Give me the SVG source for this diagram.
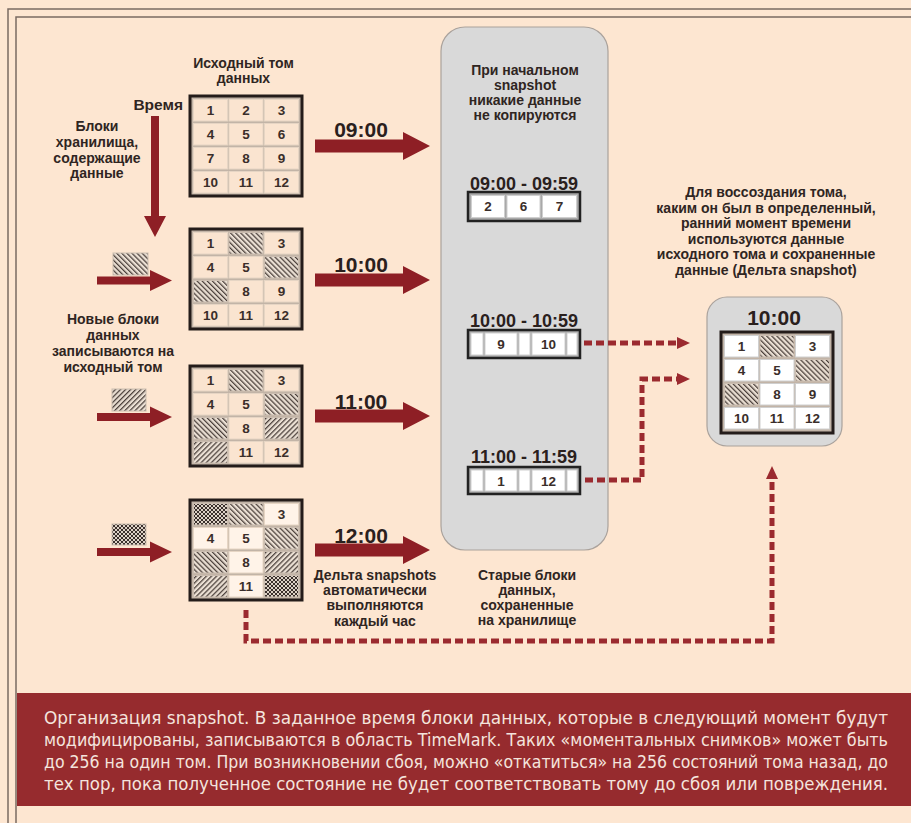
<svg xmlns="http://www.w3.org/2000/svg" width="911" height="823" viewBox="0 0 911 823">
  <defs>
    <style>
      .frame { fill: none; stroke: #7a6b62; stroke-width: 1.5; }
      .gbox { fill: #c2b4a7; stroke: #241c1a; stroke-width: 3; }
      .cell { fill: #fae4d0; stroke: #e6d5c4; stroke-width: 1; }
      .wcell { fill: #ffffff; stroke: #cfcfcf; stroke-width: 1; }
      .hA { fill: url(#hatchA); stroke: #cbbdb0; stroke-width: 1; }
      .hB { fill: url(#hatchB); stroke: #cbbdb0; stroke-width: 1; }
      .ck { fill: url(#check); stroke: #cbbdb0; stroke-width: 1; }
      .sbox { fill: #a9a9a9; stroke: #222222; stroke-width: 2.5; }
      .num { font: bold 13.5px "Liberation Sans", Arial, sans-serif; fill: #3a2e2a; text-anchor: middle; }
      .lbl { font: bold 14px "Liberation Sans", Arial, sans-serif; fill: #2f2522; text-anchor: middle; }
      .time { font: bold 21px "Liberation Sans", Arial, sans-serif; fill: #2a201d; text-anchor: middle; }
      .range { font: bold 18px "Liberation Sans", Arial, sans-serif; fill: #2a201d; text-anchor: middle; }
      .arrow { fill: #8e1f25; }
      .dash { fill: none; stroke: #9b2a2f; stroke-width: 5; stroke-dasharray: 8 4; }
      .dhead { fill: #9b2a2f; }
      .panel { fill: #d9d9d9; stroke: #aaa29c; stroke-width: 1.2; }
      .cap { font: 17px "DejaVu Sans Condensed", "Liberation Sans Narrow", "Liberation Sans", Arial, sans-serif; fill: #f4e4dd; }
    </style>
    <!-- "\" hatch -->
    <pattern id="hatchA" width="3.6" height="3.6" patternUnits="userSpaceOnUse" patternTransform="rotate(-45)">
      <rect width="3.6" height="3.6" fill="#eadfd3"/>
      <line x1="0.6" y1="0" x2="0.6" y2="3.6" stroke="#4a3f3a" stroke-width="1.3"/>
    </pattern>
    <!-- "/" hatch -->
    <pattern id="hatchB" width="3.6" height="3.6" patternUnits="userSpaceOnUse" patternTransform="rotate(45)">
      <rect width="3.6" height="3.6" fill="#eadfd3"/>
      <line x1="0.6" y1="0" x2="0.6" y2="3.6" stroke="#4a3f3a" stroke-width="1.3"/>
    </pattern>
    <!-- cross hatch -->
    <pattern id="check" width="4" height="4" patternUnits="userSpaceOnUse">
      <rect width="4" height="4" fill="#ddd2c6"/>
      <path d="M0,0 L4,4 M4,0 L0,4" stroke="#3a302c" stroke-width="1"/>
    </pattern>
  </defs>

  <!-- background and frame -->
  <rect width="911" height="823" fill="#fde6d1"/>
  <path class="frame" d="M8,823 V9 H911"/>
  <path class="frame" d="M16,823 V17 H911"/>

  <!-- left captions -->
  <g id="labels-left">
    <text class="lbl" x="243.5" y="68">Исходный том</text>
    <text class="lbl" x="243.5" y="83">данных</text>
    <text class="lbl" x="183" y="110" style="text-anchor:end;font-size:15.5px">Время</text>
    <text class="lbl" x="97" y="131">Блоки</text>
    <text class="lbl" x="97" y="147">хранилища,</text>
    <text class="lbl" x="97" y="163">содержащие</text>
    <text class="lbl" x="97" y="178">данные</text>
    <text class="lbl" x="113" y="324">Новые блоки</text>
    <text class="lbl" x="113" y="340">данных</text>
    <text class="lbl" x="113" y="356">записываются на</text>
    <text class="lbl" x="113" y="372">исходный том</text>
    <text class="lbl" x="375" y="580">Дельта snapshots</text>
    <text class="lbl" x="375" y="595">автоматически</text>
    <text class="lbl" x="375" y="610">выполняются</text>
    <text class="lbl" x="375" y="626">каждый час</text>
  </g>

  <!-- volume at 09:00 -->
  <g id="vol-0900" transform="translate(190,96)">
    <rect class="gbox" x="0" y="0" width="112" height="100"/>
    <rect class="cell" x="3.5" y="3.5" width="34" height="21.5"/>
    <rect class="cell" x="39" y="3.5" width="34" height="21.5"/>
    <rect class="cell" x="74.5" y="3.5" width="34" height="21.5"/>
    <rect class="cell" x="3.5" y="27.5" width="34" height="21.5"/>
    <rect class="cell" x="39" y="27.5" width="34" height="21.5"/>
    <rect class="cell" x="74.5" y="27.5" width="34" height="21.5"/>
    <rect class="cell" x="3.5" y="51.5" width="34" height="21.5"/>
    <rect class="cell" x="39" y="51.5" width="34" height="21.5"/>
    <rect class="cell" x="74.5" y="51.5" width="34" height="21.5"/>
    <rect class="cell" x="3.5" y="75.5" width="34" height="21.5"/>
    <rect class="cell" x="39" y="75.5" width="34" height="21.5"/>
    <rect class="cell" x="74.5" y="75.5" width="34" height="21.5"/>
    <text class="num" x="20.5" y="19">1</text>
    <text class="num" x="56" y="19">2</text>
    <text class="num" x="91.5" y="19">3</text>
    <text class="num" x="20.5" y="43">4</text>
    <text class="num" x="56" y="43">5</text>
    <text class="num" x="91.5" y="43">6</text>
    <text class="num" x="20.5" y="67">7</text>
    <text class="num" x="56" y="67">8</text>
    <text class="num" x="91.5" y="67">9</text>
    <text class="num" x="20.5" y="91">10</text>
    <text class="num" x="56" y="91">11</text>
    <text class="num" x="91.5" y="91">12</text>
  </g>

  <!-- volume at 10:00 -->
  <g id="vol-1000" transform="translate(190,229)">
    <rect class="gbox" x="0" y="0" width="112" height="100"/>
    <rect class="cell" x="3.5" y="3.5" width="34" height="21.5"/>
    <rect class="hA" x="39" y="3.5" width="34" height="21.5"/>
    <rect class="cell" x="74.5" y="3.5" width="34" height="21.5"/>
    <rect class="cell" x="3.5" y="27.5" width="34" height="21.5"/>
    <rect class="cell" x="39" y="27.5" width="34" height="21.5"/>
    <rect class="hA" x="74.5" y="27.5" width="34" height="21.5"/>
    <rect class="hA" x="3.5" y="51.5" width="34" height="21.5"/>
    <rect class="cell" x="39" y="51.5" width="34" height="21.5"/>
    <rect class="cell" x="74.5" y="51.5" width="34" height="21.5"/>
    <rect class="cell" x="3.5" y="75.5" width="34" height="21.5"/>
    <rect class="cell" x="39" y="75.5" width="34" height="21.5"/>
    <rect class="cell" x="74.5" y="75.5" width="34" height="21.5"/>
    <text class="num" x="20.5" y="19">1</text>
    <text class="num" x="91.5" y="19">3</text>
    <text class="num" x="20.5" y="43">4</text>
    <text class="num" x="56" y="43">5</text>
    <text class="num" x="56" y="67">8</text>
    <text class="num" x="91.5" y="67">9</text>
    <text class="num" x="20.5" y="91">10</text>
    <text class="num" x="56" y="91">11</text>
    <text class="num" x="91.5" y="91">12</text>
  </g>

  <!-- volume at 11:00 -->
  <g id="vol-1100" transform="translate(190,366)">
    <rect class="gbox" x="0" y="0" width="112" height="100"/>
    <rect class="cell" x="3.5" y="3.5" width="34" height="21.5"/>
    <rect class="hA" x="39" y="3.5" width="34" height="21.5"/>
    <rect class="cell" x="74.5" y="3.5" width="34" height="21.5"/>
    <rect class="cell" x="3.5" y="27.5" width="34" height="21.5"/>
    <rect class="cell" x="39" y="27.5" width="34" height="21.5"/>
    <rect class="hA" x="74.5" y="27.5" width="34" height="21.5"/>
    <rect class="hA" x="3.5" y="51.5" width="34" height="21.5"/>
    <rect class="cell" x="39" y="51.5" width="34" height="21.5"/>
    <rect class="hB" x="74.5" y="51.5" width="34" height="21.5"/>
    <rect class="hB" x="3.5" y="75.5" width="34" height="21.5"/>
    <rect class="cell" x="39" y="75.5" width="34" height="21.5"/>
    <rect class="cell" x="74.5" y="75.5" width="34" height="21.5"/>
    <text class="num" x="20.5" y="19">1</text>
    <text class="num" x="91.5" y="19">3</text>
    <text class="num" x="20.5" y="43">4</text>
    <text class="num" x="56" y="43">5</text>
    <text class="num" x="56" y="67">8</text>
    <text class="num" x="56" y="91">11</text>
    <text class="num" x="91.5" y="91">12</text>
  </g>

  <!-- volume at 12:00 -->
  <g id="vol-1200" transform="translate(190,500)">
    <rect class="gbox" x="0" y="0" width="112" height="100"/>
    <rect class="ck" x="3.5" y="3.5" width="34" height="21.5"/>
    <rect class="hA" x="39" y="3.5" width="34" height="21.5"/>
    <rect class="cell" x="74.5" y="3.5" width="34" height="21.5" style="fill:#fff3e8"/>
    <rect class="cell" x="3.5" y="27.5" width="34" height="21.5" style="fill:#fff3e8"/>
    <rect class="cell" x="39" y="27.5" width="34" height="21.5" style="fill:#fff3e8"/>
    <rect class="hA" x="74.5" y="27.5" width="34" height="21.5"/>
    <rect class="hA" x="3.5" y="51.5" width="34" height="21.5"/>
    <rect class="cell" x="39" y="51.5" width="34" height="21.5" style="fill:#fff3e8"/>
    <rect class="hB" x="74.5" y="51.5" width="34" height="21.5"/>
    <rect class="hB" x="3.5" y="75.5" width="34" height="21.5"/>
    <rect class="cell" x="39" y="75.5" width="34" height="21.5" style="fill:#fff3e8"/>
    <rect class="ck" x="74.5" y="75.5" width="34" height="21.5"/>
    <text class="num" x="91.5" y="19">3</text>
    <text class="num" x="20.5" y="43">4</text>
    <text class="num" x="56" y="43">5</text>
    <text class="num" x="56" y="67">8</text>
    <text class="num" x="56" y="91">11</text>
  </g>

  <!-- new blocks being written -->
  <g id="new-blocks">
    <rect class="hA" x="113" y="253" width="35" height="22"/>
    <rect class="hB" x="112" y="389" width="34" height="22"/>
    <rect class="ck" x="112" y="524" width="34" height="21"/>
  </g>

  <!-- snapshot storage panel -->
  <g id="snapshot-store">
    <rect class="panel" x="441" y="27" width="167" height="523" rx="24"/>
    <text class="lbl" x="525" y="75">При начальном</text>
    <text class="lbl" x="525" y="90">snapshot</text>
    <text class="lbl" x="525" y="105">никакие данные</text>
    <text class="lbl" x="525" y="120">не копируются</text>
  </g>

  <g id="delta-0900">
    <text class="range" x="524" y="190">09:00 - 09:59</text>
    <rect class="sbox" x="468" y="192" width="112" height="29"/>
    <rect class="wcell" x="471.5" y="195.5" width="33" height="22"/>
    <rect class="wcell" x="507" y="195.5" width="33" height="22"/>
    <rect class="wcell" x="542.5" y="195.5" width="34" height="22"/>
    <text class="num" x="488" y="211">2</text>
    <text class="num" x="523.5" y="211">6</text>
    <text class="num" x="559.5" y="211">7</text>
  </g>

  <g id="delta-1000">
    <text class="range" x="524" y="327">10:00 - 10:59</text>
    <rect class="sbox" x="468" y="330" width="112" height="28"/>
    <rect class="wcell" x="471" y="333" width="12" height="22"/>
    <rect class="wcell" x="485" y="333" width="32" height="22"/>
    <rect class="wcell" x="519" y="333" width="11" height="22"/>
    <rect class="wcell" x="532" y="333" width="33" height="22"/>
    <rect class="wcell" x="567" y="333" width="10" height="22"/>
    <text class="num" x="501" y="349">9</text>
    <text class="num" x="548.5" y="349">10</text>
  </g>

  <g id="delta-1100">
    <text class="range" x="524" y="463">11:00 - 11:59</text>
    <rect class="sbox" x="468" y="467" width="112" height="27"/>
    <rect class="wcell" x="471" y="470" width="12" height="21"/>
    <rect class="wcell" x="485" y="470" width="32" height="21"/>
    <rect class="wcell" x="519" y="470" width="11" height="21"/>
    <rect class="wcell" x="532" y="470" width="33" height="21"/>
    <rect class="wcell" x="567" y="470" width="10" height="21"/>
    <text class="num" x="501" y="486">1</text>
    <text class="num" x="548.5" y="486">12</text>
  </g>

  <g id="labels-store">
    <text class="lbl" x="527" y="580">Старые блоки</text>
    <text class="lbl" x="527" y="595">данных,</text>
    <text class="lbl" x="527" y="610">сохраненные</text>
    <text class="lbl" x="527" y="625">на хранилище</text>
  </g>

  <!-- restored volume -->
  <g id="labels-restore">
    <text class="lbl" x="766" y="197">Для воссоздания тома,</text>
    <text class="lbl" x="766" y="213">каким он был в определенный,</text>
    <text class="lbl" x="766" y="228">ранний момент времени</text>
    <text class="lbl" x="766" y="244">используются данные</text>
    <text class="lbl" x="766" y="259">исходного тома и сохраненные</text>
    <text class="lbl" x="766" y="275">данные (Дельта snapshot)</text>
  </g>

  <g id="restored-1000">
    <rect class="panel" x="707" y="297" width="135" height="149" rx="20"/>
    <text class="time" x="774" y="325">10:00</text>
    <g transform="translate(721,332)">
      <rect class="gbox" x="0" y="0" width="112" height="101"/>
      <rect class="wcell" x="3.5" y="3.5" width="34" height="21.5"/>
      <rect class="hA" x="39" y="3.5" width="34" height="21.5"/>
      <rect class="wcell" x="74.5" y="3.5" width="34" height="21.5"/>
      <rect class="wcell" x="3.5" y="27.5" width="34" height="21.5"/>
      <rect class="wcell" x="39" y="27.5" width="34" height="21.5"/>
      <rect class="hA" x="74.5" y="27.5" width="34" height="21.5"/>
      <rect class="hA" x="3.5" y="51.5" width="34" height="21.5"/>
      <rect class="wcell" x="39" y="51.5" width="34" height="21.5"/>
      <rect class="wcell" x="74.5" y="51.5" width="34" height="21.5"/>
      <rect class="wcell" x="3.5" y="75.5" width="34" height="21.5"/>
      <rect class="wcell" x="39" y="75.5" width="34" height="21.5"/>
      <rect class="wcell" x="74.5" y="75.5" width="34" height="21.5"/>
      <text class="num" x="20.5" y="19">1</text>
      <text class="num" x="91.5" y="19">3</text>
      <text class="num" x="20.5" y="43">4</text>
      <text class="num" x="56" y="43">5</text>
      <text class="num" x="56" y="67">8</text>
      <text class="num" x="91.5" y="67">9</text>
      <text class="num" x="20.5" y="91">10</text>
      <text class="num" x="56" y="91">11</text>
      <text class="num" x="91.5" y="91">12</text>
    </g>
  </g>

  <!-- connectors -->
  <g id="connectors">
    <!-- time axis -->
    <polygon class="arrow" points="151,116 159,116 159,216 166,216 155,237 144,216 151,216"/>
    <!-- hourly snapshot arrows -->
    <polygon class="arrow" points="315,139.5 403,139.5 403,132 430,146 403,160 403,152.5 315,152.5"/>
    <polygon class="arrow" points="315,273.5 403,273.5 403,266 430,280 403,294 403,286.5 315,286.5"/>
    <polygon class="arrow" points="315,409.5 403,409.5 403,402 430,416 403,430 403,422.5 315,422.5"/>
    <polygon class="arrow" points="315,543.5 403,543.5 403,536 430,550 403,564 403,556.5 315,556.5"/>
    <!-- incoming writes -->
    <polygon class="arrow" points="97,276.5 150,276.5 150,270 172,280.5 150,291 150,284.5 97,284.5"/>
    <polygon class="arrow" points="97,413 150,413 150,406.5 172,417 150,427.5 150,421 97,421"/>
    <polygon class="arrow" points="97,548 150,548 150,541.5 172,552 150,562.5 150,556 97,556"/>
    <!-- restore paths -->
    <path class="dash" d="M584,343 H677"/>
    <polygon class="dhead" points="677,337 690,343 677,349"/>
    <path class="dash" d="M585,480 H642 V379 H677"/>
    <polygon class="dhead" points="677,373 690,379 677,385"/>
    <path class="dash" d="M246,610 V641 H772 V479"/>
    <polygon class="dhead" points="766,479 772,466 778,479"/>
    <!-- time labels -->
    <text class="time" x="361" y="137">09:00</text>
    <text class="time" x="361" y="272">10:00</text>
    <text class="time" x="361" y="409">11:00</text>
    <text class="time" x="361" y="543">12:00</text>
  </g>

  <!-- caption band -->
  <g id="caption">
    <rect x="17" y="693" width="894" height="113" fill="#962b2e"/>
    <text class="cap" x="44" y="724" textLength="844" lengthAdjust="spacingAndGlyphs">Организация snapshot. В заданное время блоки данных, которые в следующий момент будут</text>
    <text class="cap" x="44" y="746" textLength="844" lengthAdjust="spacingAndGlyphs">модифицированы, записываются в область TimeMark. Таких «моментальных снимков» может быть</text>
    <text class="cap" x="44" y="768" textLength="844" lengthAdjust="spacingAndGlyphs">до 256 на один том. При возникновении сбоя, можно «откатиться» на 256 состояний тома назад, до</text>
    <text class="cap" x="44" y="790" textLength="844" lengthAdjust="spacingAndGlyphs">тех пор, пока полученное состояние не будет соответствовать тому до сбоя или повреждения.</text>
  </g>
</svg>
